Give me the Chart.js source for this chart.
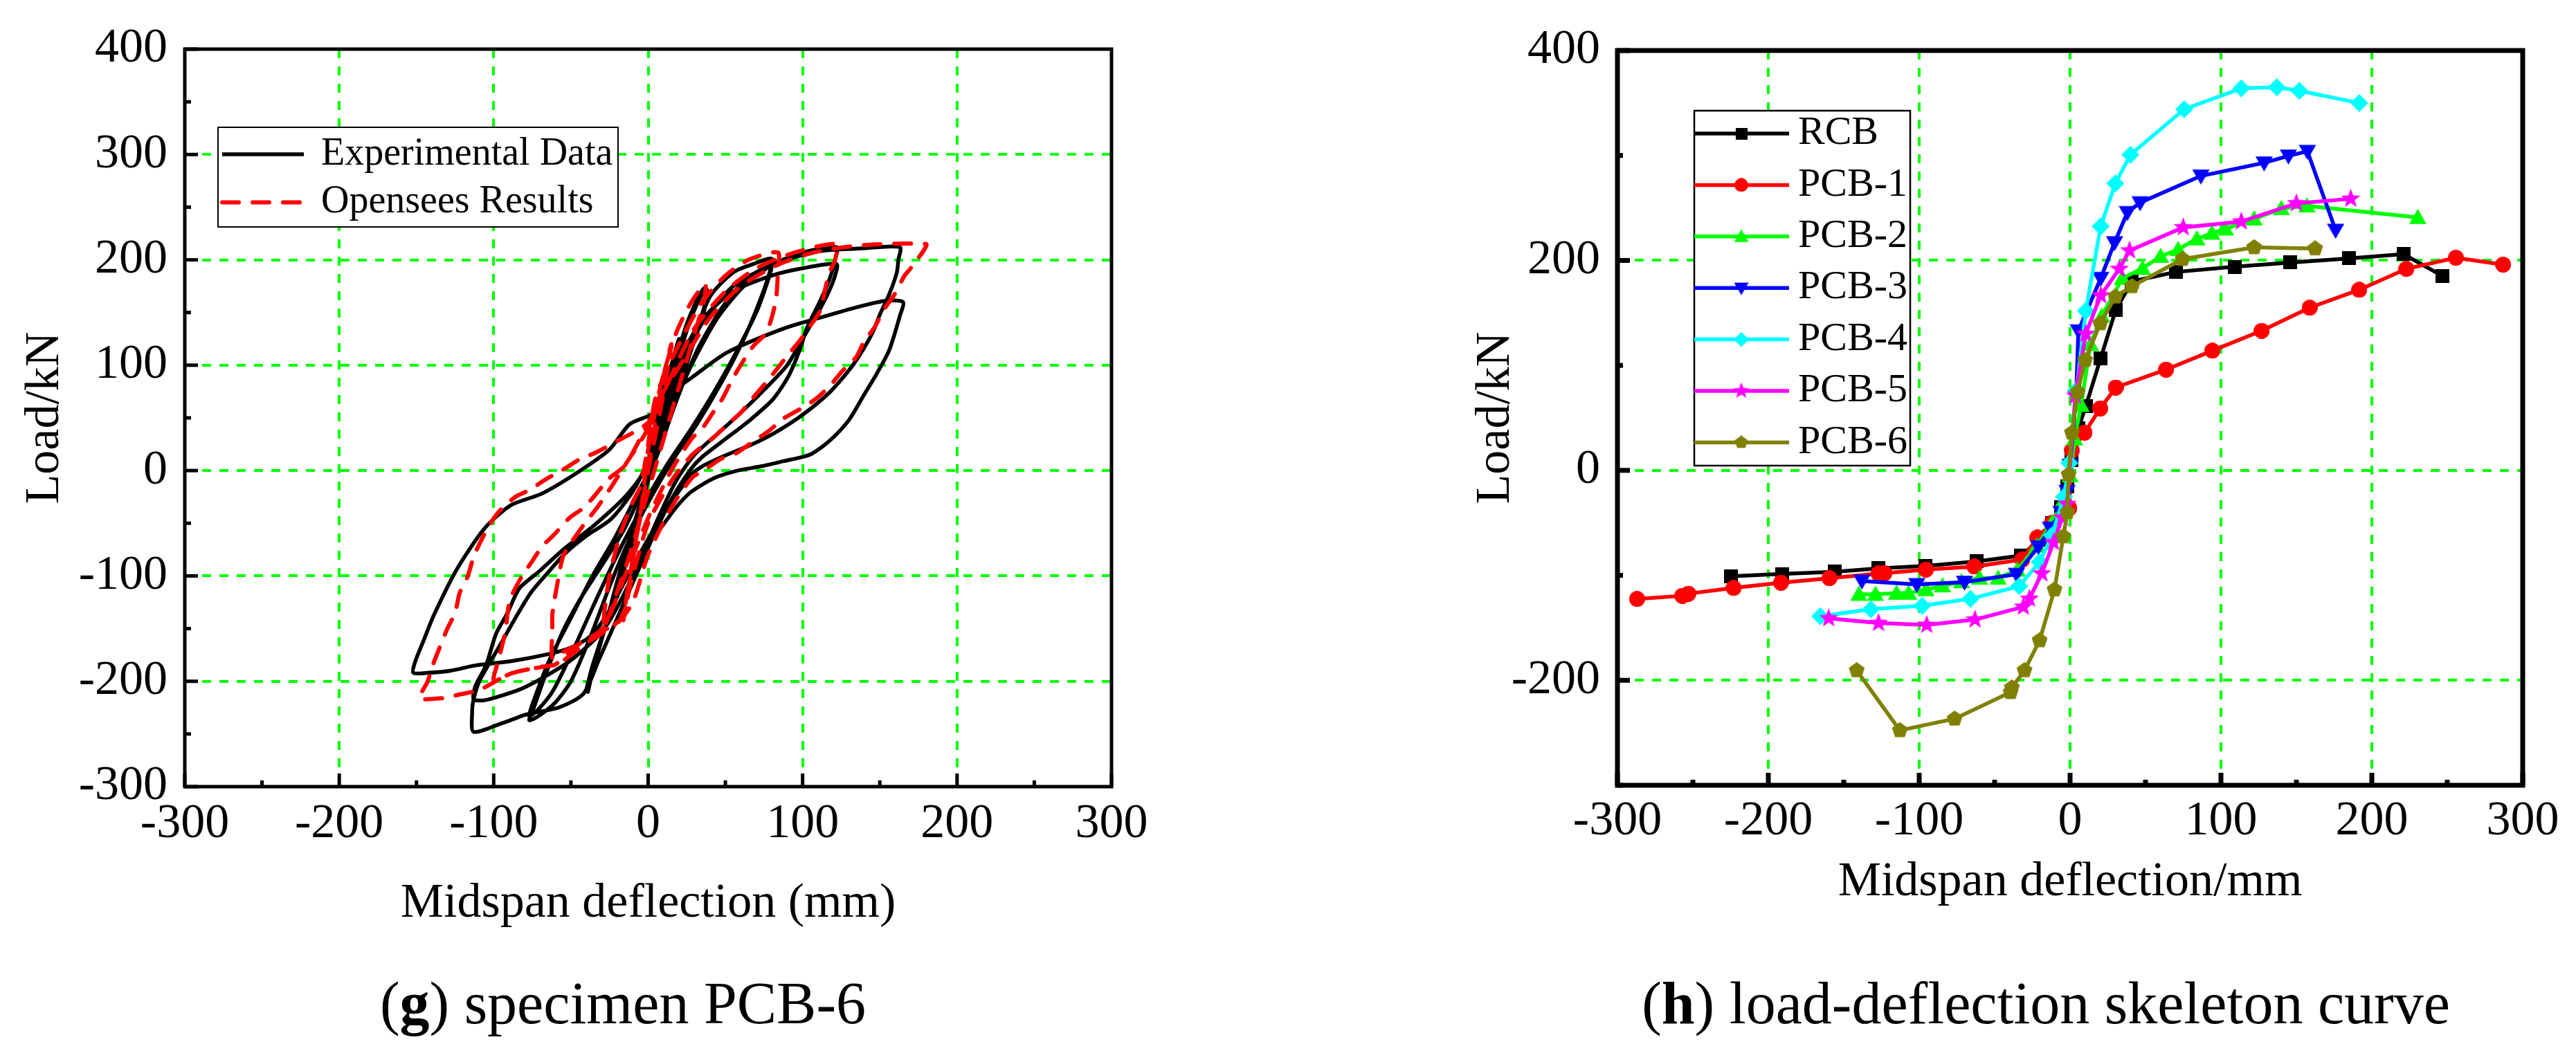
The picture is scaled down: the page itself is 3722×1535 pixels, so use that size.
<!DOCTYPE html>
<html><head><meta charset="utf-8">
<script src="https://cdn.jsdelivr.net/npm/chart.js@4.4.1/dist/chart.umd.min.js"></script>
<style>
html,body{margin:0;padding:0;background:#fff;width:3722px;height:1535px;overflow:hidden;}
canvas{position:absolute;top:0;}
#c1{left:0;} #c2{left:1900px;}
.cap{position:absolute;top:1405px;font-family:'Liberation Serif',serif;font-size:86px;line-height:90px;text-align:center;color:#000;white-space:nowrap;}
</style></head><body>
<canvas id="c1" width="1700" height="1380"></canvas>
<canvas id="c2" width="1822" height="1380"></canvas>
<div class="cap" style="left:0;width:1800px;">(<b>g</b>) specimen PCB-6</div>
<div class="cap" style="left:2156px;width:1600px;">(<b>h</b>) load-deflection skeleton curve</div>
<script>
// ---------- tick values ----------
const deflectionTicks = [-300, -200, -100, 0, 100, 200, 300];
const loadTicksG = [-300, -200, -100, 0, 100, 200, 300, 400];
const loadTicksH = [-200, 0, 200, 400];

// ---------- (g) specimen PCB-6 : hysteresis paths [deflection mm, load kN] ----------
const experimentalData = [
[0,0],[4,30],[8,65],[10,80],[7,60],[2,20],[-3,-20],[-8,-60],[-11,-85],[-8,-65],[-3,-30],[2,10],
[8,60],[15,100],[20,125],[17,105],[10,60],[2,10],[-6,-40],[-14,-85],[-20,-120],[-17,-100],[-9,-55],[-2,-15],
[6,35],[14,85],[24,135],[31,160],[36,173],[37,160],[33,140],[24,100],[12,45],[2,0],[-8,-45],[-18,-100],[-28,-150],[-35,-185],[-39,-210],[-37,-195],[-30,-160],[-20,-110],[-10,-60],[0,-10],
[8,40],[18,100],[28,145],[35,168],[38,172],[36,150],[28,115],[16,60],[4,10],[-8,-45],[-20,-105],[-30,-160],[-37,-195],[-40,-208],[-36,-185],[-26,-140],[-14,-80],[-4,-30],
[5,15],[15,65],[28,120],[40,165],[55,188],[68,196],[80,201],[78,185],[72,160],[62,125],[48,85],[32,45],[16,10],[2,-25],[-12,-65],[-25,-110],[-38,-160],[-50,-200],[-60,-220],[-70,-232],[-77,-237],[-74,-225],[-68,-200],[-56,-155],[-44,-122],[-30,-90],[-16,-57],[-4,-20],[6,15],
[18,65],[32,115],[48,155],[62,180],[72,190],[80,195],[77,178],[70,150],[58,115],[44,78],[28,40],[12,5],[-4,-35],[-20,-80],[-36,-130],[-50,-175],[-62,-210],[-72,-228],[-77,-233],[-74,-218],[-64,-180],[-50,-140],[-36,-100],[-22,-65],[-8,-25],[4,10],
[15,55],[28,100],[45,145],[62,175],[80,195],[100,207],[122,212],[121,200],[118,184],[112,163],[103,136],[98,114],[91,90],[81,68],[66,48],[51,31],[35,13],[28,2],[16,-25],[4,-60],[-8,-100],[-20,-140],[-32,-180],[-42,-212],[-58,-225],[-75,-230],[-80,-232],[-95,-240],[-113,-248],[-114,-230],[-113,-217],[-109,-199],[-96,-166],[-86,-140],[-76,-116],[-65,-97],[-54,-79],[-40,-62],[-24,-46],[-10,-20],[0,10],[8,45],
[14,80],[22,110],[36,145],[55,170],[80,185],[100,192],[122,196],[121,185],[117,170],[110,150],[100,125],[90,100],[76,78],[60,55],[45,35],[30,15],[18,-10],[5,-50],[-10,-100],[-22,-135],[-31,-155],[-50,-180],[-68.6,-197],[-83.5,-208],[-106,-218],[-113,-217],[-112,-205],[-105,-185],[-98.5,-155],[-91,-135],[-83.5,-112],[-70,-95],[-55,-75],[-35,-52],[-15,-25],[0,5],
[10,50],[20,95],[35,140],[55,175],[80,195],[110,208],[140,211],[163,212],[162,200],[161,188],[156,167],[150,148],[145,130],[133,101],[118,75],[100,53],[81,35],[66,24],[51,15],[35,4],[28,-4],[15,-30],[0,-65],[-15,-105],[-28,-140],[-38,-158],[-50,-168],[-64,-174],[-89,-181],[-112,-185],[-128,-190],[-143,-192],[-152,-192],[-151,-182],[-145,-160],[-139,-138],[-124,-94],[-106,-55],[-89,-33],[-69,-22],[-46,-2],[-25,20],[-12,44],[3,54],[17,76],[28,88],[51,112],[88,135],[111,145],[135,155],[153,161],[165,160],[163,147],[156,114],[148,92],[139,70],[130,48],[118,29],[106,16],[100,13],[88,9],[73,4],[58,0],[43,-7],[28,-20],[18,-35],[8,-55]
];
const openseesData = [
[0,0],[5,50],[10,90],[15,120],[13,100],[7,50],[0,0],[-6,-50],[-12,-105],[-16,-142],[-14,-120],[-9,-75],[-4,-30],
[0,20],[8,80],[18,130],[28,160],[37,177],[36,160],[30,130],[20,80],[8,20],[-2,-30],[-12,-80],[-20,-115],[-26,-140],[-29,-150],[-28,-130],[-25,-100],[-18,-60],[-10,-30],[-5,-15],
[0,25],[5,70],[20,120],[35,160],[50,185],[65,200],[84,207],[84,190],[83,165],[80,145],[76,130],[68,118],[62,105],[55,88],[48,68],[42,55],[35,40],[28,30],[15,0],[0,-45],[-15,-100],[-28,-147],[-38,-160],[-46,-166],[-55,-172],[-62,-178],[-62,-151],[-62,-136],[-58,-101],[-55,-81],[-50.6,-70],[-41,-50],[-33,-35],[-25,-18],[-15,5],
[0,40],[15,90],[30,135],[50,170],[70,192],[95,207],[122,215],[121,200],[118,190],[115,175],[111.5,152],[105.5,138.5],[98,123],[90.6,110],[82.4,94.5],[75.6,82.4],[66.7,67],[60,55],[50,41.8],[42,30.8],[28.5,15],[15,-10],[0,-50],[-10,-100],[-17.6,-140],[-31,-155.6],[-41.6,-165],[-53.6,-179],[-63,-185],[-77.5,-188.5],[-89.5,-193],[-100,-200],[-98,-185],[-95,-169],[-92.5,-153],[-89.5,-123],[-82,-101],[-76,-88],[-68.6,-72],[-61,-61],[-51,-45],[-41.5,-35],[-33,-21],[-25.6,-8],[-15,5],
[0,45],[10,75],[25,110],[40,145],[60,175],[85,196],[110,208],[140,214],[180,215],[178,208],[174,200],[170,192],[166,185],[159.4,167],[152.6,152.7],[146.6,136],[140,123],[134.7,107.7],[125.7,94.5],[118,81],[108.5,68],[98,58],[87.6,49.4],[78,37.4],[68,27.5],[57,16.5],[47,11],[36,0],[28.5,-6.6],[15,-35],[0,-80],[-10,-125],[-20,-145],[-31,-153],[-46,-166],[-60,-184],[-68.6,-186],[-89.5,-193],[-109,-208],[-122,-212.5],[-133,-216],[-148,-216],[-143,-201],[-139,-183],[-135,-168],[-130,-150],[-125,-135],[-122,-116],[-117,-101],[-113,-82],[-109,-69],[-102,-50],[-96,-38],[-86,-25],[-77,-18.6],[-66,-8],[-56,0],[-44,11],[-34,17],[-20,28],[-5,40],[3,49]
];

// ---------- (h) skeleton curves [deflection mm, load kN] ----------
const seriesNames = ['RCB', 'PCB-1', 'PCB-2', 'PCB-3', 'PCB-4', 'PCB-5', 'PCB-6'];
const rcbData = [[-225,-101],[-191,-98.7],[-156,-96.6],[-127,-93.3],[-96,-91],[-62,-86.7],[-32.5,-81.2],[-20,-66],[-12,-50],[-6,-35],[-2,-15],[1,10],[5.5,40],[10.4,61],[20.3,107],[30.3,153],[41,180],[70,189],[109,194],[146,198],[185,202],[221,206],[247,185]];
const pcb1Data = [[-287,-122.5],[-257,-119.5],[-253,-117.5],[-223,-112],[-191.6,-107],[-159.5,-102.7],[-127,-98.3],[-123,-98],[-95.5,-94.5],[-63.4,-91.7],[-31.7,-85],[-21.7,-64],[-12,-50],[-0.5,-36],[1.2,19],[9.6,36],[20,59],[30.3,79],[63.6,96],[94.3,114],[127,133],[158.8,155],[191.6,172],[222.9,192],[255.7,202.6],[287,196]];
const pcb2Data = [[-140,-118],[-129,-118],[-115,-117],[-107,-117],[-95.5,-113.6],[-84.5,-110],[-72,-106],[-60,-102.6],[-47.7,-102.6],[-35,-95],[-22,-72],[-12,-50],[-5,-30],[0,-5],[3,30],[7.3,62],[13.5,120],[21,147],[34.6,183],[48,192.5],[60,204],[71.6,210.5],[84,220.6],[94,226],[103,230],[122,239.6],[140,249.5],[157,252],[230.5,241]];
const pcb3Data = [[-138,-105.4],[-101.6,-108.7],[-70,-106.5],[-35.5,-99],[-21,-72.7],[-13,-55],[-6,-40],[-2,-20],[0,5],[4,70],[5.5,133],[20.3,183],[29.5,217],[38,245.7],[46.4,255],[86.7,280.5],[128.6,293],[144.7,299.6],[157.3,304],[176,228.8]];
const pcb4Data = [[-165.6,-139],[-132,-132.3],[-98,-129],[-66,-122.4],[-33.7,-110.3],[-20.2,-87.3],[-12,-62],[-4,-25],[-0.5,7],[4.3,76.5],[10.4,152],[20.3,232.5],[30,273.4],[40,300.7],[75.6,344],[113.5,364],[137,365],[152,361.6],[191.6,350]];
const pcb5Data = [[-160,-141],[-127,-145.5],[-95,-147.3],[-63,-142.2],[-31,-130],[-27,-122.4],[-18.7,-98.3],[-11,-68.6],[-5,-45],[-2,-32],[3.5,71],[10.4,130],[20.3,166.6],[32.6,191.8],[39.4,209.4],[75,231.5],[113.5,237],[150,254.4],[186,258.7]];
const pcb6Data = [[-141.4,-190.6],[-112.8,-247.7],[-76.5,-236.7],[-39.4,-211.4],[-38.6,-207],[-30.2,-190.6],[-20.2,-162],[-10.3,-113.6],[-4.5,-63],[-1.8,-40],[-1,-4],[1.2,35.8],[5,74.7],[10,105],[20,140],[30,165.5],[41,175.3],[74.6,201.3],[122,212.4],[162.4,211.3]];

// ---------- helpers ----------
const toXY = arr => arr.map(p => ({x: p[0], y: p[1]}));
const FONT = 'Liberation Serif';

function makeMarker(shape, color, scale) {
  const base = {square: 20, circle: 23, triangle: 25, invTriangle: 25, diamond: 26, star: 29, pentagon: 24}[shape];
  const size = Math.round(base * (scale || 1));
  const c = document.createElement('canvas');
  c.width = size; c.height = size;
  const g = c.getContext('2d');
  g.fillStyle = color;
  const r = size / 2;
  g.translate(r, r);
  g.beginPath();
  if (shape === 'square') { g.rect(-r, -r, size, size); }
  else if (shape === 'circle') { g.arc(0, 0, r, 0, Math.PI * 2); }
  else if (shape === 'triangle') { g.moveTo(0, -r); g.lineTo(r, r * 0.75); g.lineTo(-r, r * 0.75); }
  else if (shape === 'invTriangle') { g.moveTo(0, r); g.lineTo(r, -r * 0.75); g.lineTo(-r, -r * 0.75); }
  else if (shape === 'diamond') { g.moveTo(0, -r); g.lineTo(r, 0); g.lineTo(0, r); g.lineTo(-r, 0); }
  else if (shape === 'star') {
    for (let i = 0; i < 10; i++) { const a = -Math.PI / 2 + i * Math.PI / 5; const rr = i % 2 ? r * 0.42 : r; g.lineTo(Math.cos(a) * rr, Math.sin(a) * rr); }
  } else if (shape === 'pentagon') {
    for (let i = 0; i < 5; i++) { const a = -Math.PI / 2 + i * 2 * Math.PI / 5; g.lineTo(Math.cos(a) * r, Math.sin(a) * r); }
  }
  g.closePath();
  g.fill();
  return c;
}

const gridColor = (lo, hi) => c => (c.tick && (c.tick.value <= lo || c.tick.value >= hi)) ? 'rgba(0,0,0,0)' : '#00FF00';

const frameTicks = {
  id: 'frameTicks',
  afterDatasetsDraw(chart, args, o) {
    const {ctx, chartArea: a} = chart;
    const xs = chart.scales.x, ys = chart.scales.y;
    ctx.save();
    ctx.fillStyle = '#000';
    const isMajor = (sc, v) => sc.ticks.some(t => Math.abs(t.value - v) < 1e-6);
    for (let v = xs.min; v <= xs.max + 1e-9; v += o.xMinor) {
      const p = xs.getPixelForValue(v), len = isMajor(xs, v) ? o.majorLen : o.minorLen;
      ctx.fillRect(p - o.tickW / 2, a.bottom - len, o.tickW, len);
    }
    for (let v = ys.min; v <= ys.max + 1e-9; v += o.yMinor) {
      const p = ys.getPixelForValue(v), len = isMajor(ys, v) ? o.majorLen : o.minorLen;
      ctx.fillRect(a.left, p - o.tickW / 2, len, o.tickW);
    }
    ctx.lineWidth = o.frame;
    ctx.strokeStyle = '#000';
    ctx.strokeRect(a.left, a.top, a.right - a.left, a.bottom - a.top);
    ctx.restore();
  }
};

const boxLegend = {
  id: 'boxLegend',
  afterDraw(chart, args, o) {
    const ctx = chart.ctx;
    ctx.save();
    ctx.fillStyle = '#fff';
    ctx.fillRect(o.x, o.y, o.w, o.h);
    ctx.lineWidth = o.border;
    ctx.strokeStyle = '#000';
    ctx.strokeRect(o.x, o.y, o.w, o.h);
    chart.data.datasets.forEach((ds, i) => {
      const yy = o.firstY + i * o.step;
      ctx.beginPath();
      ctx.setLineDash(ds.borderDash || []);
      ctx.lineCap = ds.borderCapStyle || 'butt';
      ctx.lineWidth = ds.borderWidth;
      ctx.strokeStyle = ds.borderColor;
      ctx.moveTo(o.lineX0, yy);
      ctx.lineTo(o.lineX1, yy);
      ctx.stroke();
      ctx.setLineDash([]);
      if (ds.legendMarker) {
        const m = ds.legendMarker;
        ctx.drawImage(m, o.markerX - m.width / 2, yy - m.height / 2);
      }
      ctx.fillStyle = '#000';
      ctx.font = o.fontSize + 'px "' + FONT + '"';
      ctx.textBaseline = 'middle';
      ctx.textAlign = 'left';
      ctx.fillText(ds.label, o.textX, yy);
    });
    ctx.restore();
  }
};

function axisCfg(opts) {
  const f = {family: FONT, size: 70};
  return {
    type: 'linear', min: opts.min, max: opts.max,
    afterFit: s => { if (opts.width) s.width = opts.width; if (opts.height) s.height = opts.height; },
    afterBuildTicks: s => { s.ticks = opts.ticks.map(v => ({value: v})); },
    ticks: {font: f, color: '#000', padding: opts.pad, maxRotation: 0, minRotation: 0, autoSkip: false},
    grid: {color: gridColor(opts.min, opts.max), lineWidth: 4, drawTicks: false, borderDash: [13, 12]},
    border: {display: false, dash: [13, 12]},
    title: {display: true, text: opts.title, font: f, color: '#000', padding: opts.titlePad}
  };
}

// ---------- chart (g) ----------
new Chart(document.getElementById('c1'), {
  type: 'scatter',
  data: {datasets: [
    {label: 'Experimental Data', data: toXY(experimentalData), showLine: true, borderColor: '#000000', backgroundColor: '#000000', borderWidth: 5.5, pointRadius: 0, tension: 0.25, order: 1},
    {label: 'Opensees Results', data: toXY(openseesData), showLine: true, borderColor: '#FF0000', backgroundColor: '#FF0000', borderWidth: 6, borderDash: [24, 20], borderCapStyle: 'round', pointRadius: 0, tension: 0.25, order: 0}
  ]},
  options: {
    responsive: false, animation: false, devicePixelRatio: 1,
    layout: {padding: {top: 71, right: 94, left: 0, bottom: 0}},
    plugins: {
      legend: {display: false}, tooltip: {enabled: false},
      frameTicks: {xMinor: 50, yMinor: 50, majorLen: 19, minorLen: 9, tickW: 5, frame: 5},
      boxLegend: {x: 315, y: 184, w: 578, h: 144, border: 2, firstY: 223, step: 69.5, lineX0: 321, lineX1: 439, markerX: 380, textX: 464, fontSize: 56}
    },
    scales: {
      x: axisCfg({min: -300, max: 300, ticks: deflectionTicks, height: 243, pad: 13, title: 'Midspan deflection (mm)', titlePad: {top: 0, bottom: 31}}),
      y: axisCfg({min: -300, max: 400, ticks: loadTicksG, width: 267, pad: 25, title: 'Load/kN', titlePad: {top: 24, bottom: 0}})
    }
  },
  plugins: [frameTicks, boxLegend]
});

// ---------- chart (h) ----------
const styleH = [
  ['#000000', 'square', rcbData],
  ['#FF0000', 'circle', pcb1Data],
  ['#00FF00', 'triangle', pcb2Data],
  ['#0000FF', 'invTriangle', pcb3Data],
  ['#00FFFF', 'diamond', pcb4Data],
  ['#FF00FF', 'star', pcb5Data],
  ['#808000', 'pentagon', pcb6Data]
];
new Chart(document.getElementById('c2'), {
  type: 'scatter',
  data: {datasets: styleH.map((s, i) => ({
    label: seriesNames[i], data: toXY(s[2]), showLine: true,
    borderColor: s[0], backgroundColor: s[0], borderWidth: 5.5,
    pointStyle: makeMarker(s[1], s[0], 1), legendMarker: makeMarker(s[1], s[0], 0.85),
    pointRadius: 10, tension: 0, order: 6 - i
  }))},
  options: {
    responsive: false, animation: false, devicePixelRatio: 1,
    layout: {padding: {top: 73, right: 77, left: 0, bottom: 0}},
    plugins: {
      legend: {display: false}, tooltip: {enabled: false},
      frameTicks: {xMinor: 50, yMinor: 100, majorLen: 18, minorLen: 8, tickW: 7, frame: 7},
      boxLegend: {x: 548, y: 160, w: 312, h: 513, border: 2.5, firstY: 193, step: 74.4, lineX0: 548, lineX1: 685, markerX: 616, textX: 698, fontSize: 58}
    },
    scales: {
      x: axisCfg({min: -300, max: 300, ticks: deflectionTicks, height: 245, pad: 11, title: 'Midspan deflection/mm', titlePad: {top: 0, bottom: 62}}),
      y: axisCfg({min: -300, max: 400, ticks: loadTicksH, width: 437, pad: 25, title: 'Load/kN', titlePad: {top: 220, bottom: 0}})
    }
  },
  plugins: [frameTicks, boxLegend]
});
</script></body></html>
